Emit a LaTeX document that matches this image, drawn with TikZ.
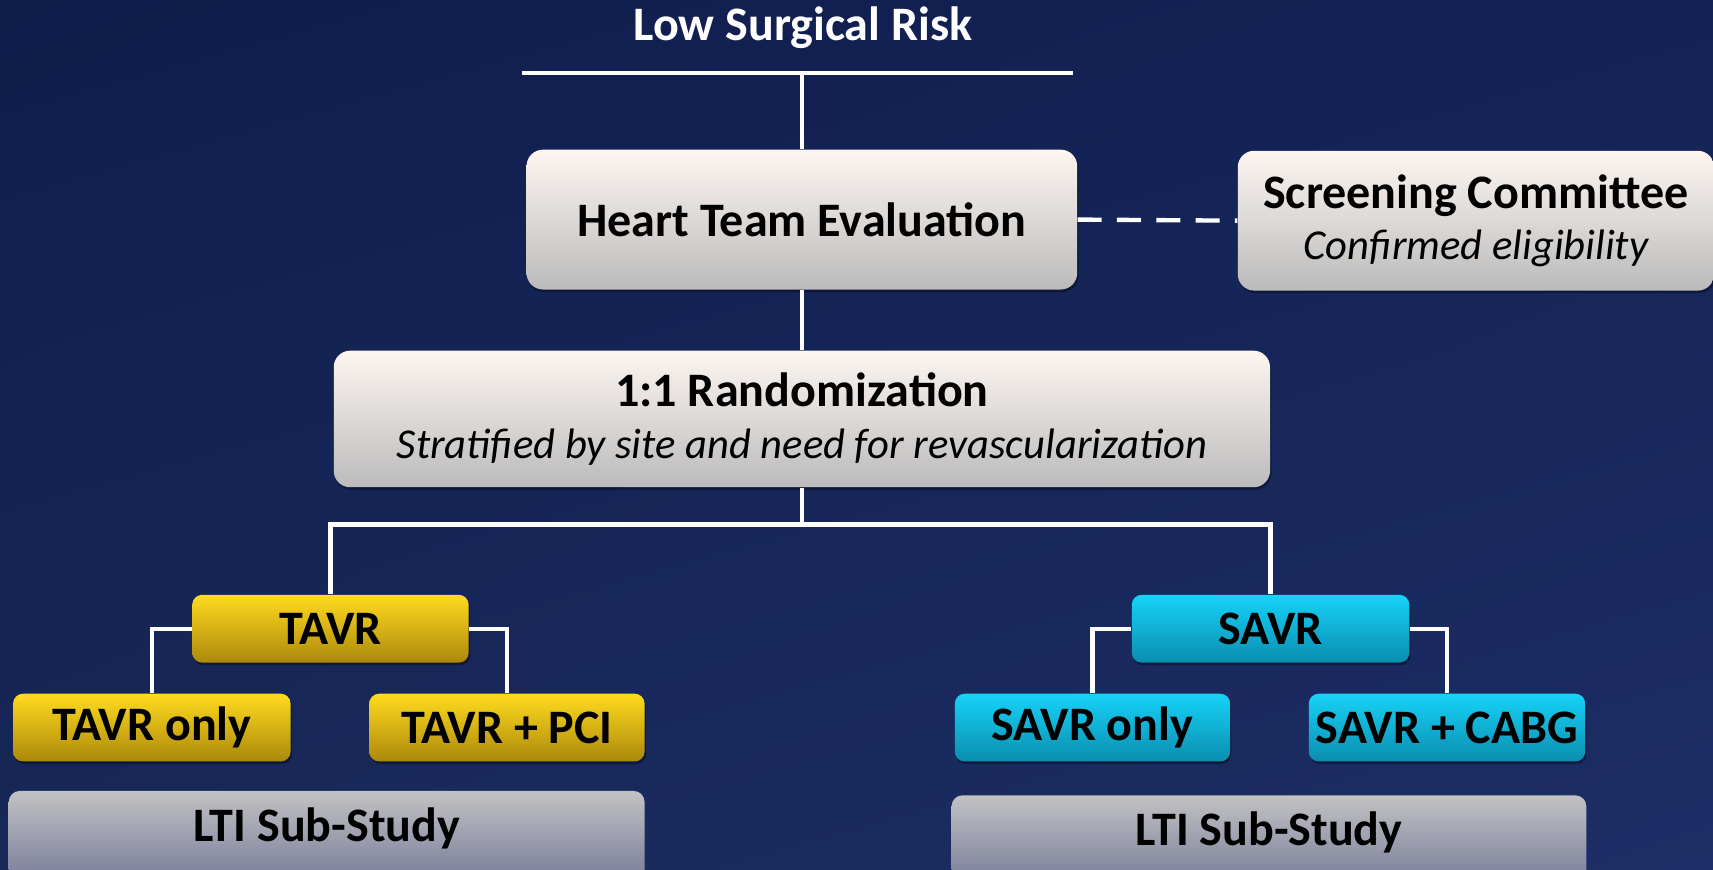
\documentclass[tikz,border=0pt]{standalone}
\usepackage{fontspec}
\setmainfont{Carlito}
\usetikzlibrary{shadows,shadings}
\definecolor{bgA}{HTML}{0F1D4B}
\definecolor{bgB}{HTML}{142356}
\definecolor{bgC}{HTML}{172858}
\definecolor{bgD}{HTML}{1D2E66}
\definecolor{wTop}{HTML}{FDF6F1}
\definecolor{wBot}{HTML}{BBBBBB}
\definecolor{gTop}{HTML}{FFDB1E}
\definecolor{gMid}{HTML}{F2C213}
\definecolor{gBot}{HTML}{AC880C}
\definecolor{cTop}{HTML}{17D3F8}
\definecolor{cMid}{HTML}{12C0E6}
\definecolor{cBot}{HTML}{0A8DAF}
\definecolor{lTop}{HTML}{C2C2C4}
\definecolor{lBot}{HTML}{737896}
\newcommand{\bfsz}{\fontsize{22}{23.5}\selectfont\bfseries}
\newcommand{\itsz}{\fontsize{19.5}{23.5}\selectfont\itshape}
\newcommand{\twoline}{\fontsize{22}{23.5}\selectfont}
\tikzset{
  conn/.style={draw=white, line width=2pt},
  shad/.style={drop shadow={shadow xshift=0.6pt, shadow yshift=-1.2pt, opacity=0.35, fill=black}},
  whitebox/.style={shad, rounded corners=7.5pt, top color=wTop, middle color=wTop, bottom color=wBot, text=black, align=center, inner sep=0pt},
  goldbox/.style={shad, rounded corners=4.5pt, top color=gTop, middle color=gMid, bottom color=gBot, text=black, font=\bfsz, inner sep=0pt, minimum height=31pt},
  cyanbox/.style={shad, rounded corners=4.5pt, top color=cTop, middle color=cMid, bottom color=cBot, text=black, font=\bfsz, inner sep=0pt, minimum height=31pt},
  ltibox/.style={rounded corners=5pt, top color=lTop, bottom color=lBot},
  ltitext/.style={text=black, font=\bfsz, inner sep=0pt},
}
\begin{document}
\begin{tikzpicture}[x=0.5pt, y=-0.5pt]
\useasboundingbox (0,0) rectangle (1568,796);
\clip (0,0) rectangle (1568,796);
\shade[upper left=bgA, upper right=bgB, lower left=bgC, lower right=bgD] (0,0) rectangle (1568,796);

% title and bar
\node[text=white, font=\bfsz, inner sep=0pt] (title) at (735,25) {Low Surgical Risk};
\coordinate (barL) at (478,67);
\coordinate (barR) at (982,67);
\draw[conn] (barL) -- (barR);

% main boxes
\node[whitebox, minimum width=252pt, minimum height=64pt, font=\bfsz] (hte) at (734,201) {Heart Team Evaluation};
\node[whitebox, minimum width=218pt, minimum height=64pt, font=\twoline] (scr) at (1351,202)
  {{\bfseries Screening Committee}\\{\itsz Confirmed eligibility}};
\node[whitebox, minimum width=428.5pt, minimum height=62.5pt, font=\twoline] (rand) at (734,383.5)
  {{\bfseries 1:1 Randomization}\\{\itsz Stratified by site and need for revascularization}};

% arm boxes
\node[goldbox, minimum width=126.5pt] (tavr) at (302.5,575.5) {TAVR};
\node[goldbox, minimum width=127pt] (tonly) at (139,666) {TAVR only};
\node[goldbox, minimum width=126pt] (tpci) at (464,666) {TAVR + PCI};
\node[cyanbox, minimum width=127pt] (savr) at (1163,575.5) {SAVR};
\node[cyanbox, minimum width=126pt] (sonly) at (1000,666) {SAVR only};
\node[cyanbox, minimum width=126.5pt] (scabg) at (1324.5,666) {SAVR + CABG};

% LTI sub-study boxes (run off the bottom edge)
\path[ltibox] (8,724) rectangle (590,812);
\node[ltitext] (lti1) at (299,758) {LTI Sub-Study};
\path[ltibox] (871,728) rectangle (1452,814);
\node[ltitext] (lti2) at (1161.5,762) {LTI Sub-Study};

% connectors
\draw[conn] (barL -| hte.north) -- (hte.north);
\draw[conn] (hte.south) -- (rand.north);
\draw[draw=white, line width=2pt, dash pattern=on 11pt off 7pt] (hte.east) -- (scr.west);
\coordinate (split) at (734,480);
\draw[conn] (rand.south) -- (split);
\draw[conn] (tavr.north) |- (split) -| (savr.north);
\draw[conn] (tavr.west) -| (tonly.north);
\draw[conn] (tavr.east) -| (tpci.north);
\draw[conn] (savr.west) -| (sonly.north);
\draw[conn] (savr.east) -| (scabg.north);
\end{tikzpicture}
\end{document}
